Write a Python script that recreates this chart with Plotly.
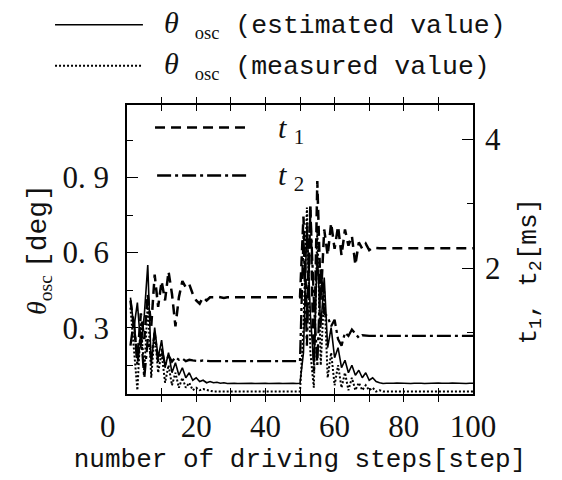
import plotly.graph_objects as go

steps = list(range(1, 101))

theta_est = [
    0.42, 0.30, 0.40, 0.22, 0.35, 0.55, 0.15, 0.30, 0.18, 0.25,
    0.14, 0.20, 0.12, 0.16, 0.11, 0.14, 0.10, 0.12, 0.09, 0.10,
    0.085, 0.09, 0.08, 0.085, 0.08, 0.082, 0.078, 0.08, 0.077, 0.079,
    0.078, 0.077, 0.078, 0.079, 0.077, 0.078, 0.077, 0.078, 0.079, 0.078,
    0.077, 0.078, 0.079, 0.078, 0.077, 0.078, 0.079, 0.078, 0.077, 0.078,
    0.20, 0.72, 0.35, 0.15, 0.60, 0.30, 0.50, 0.22, 0.30, 0.18,
    0.22, 0.14, 0.17, 0.12, 0.15, 0.11, 0.13, 0.10, 0.12, 0.09,
    0.10, 0.085, 0.08, 0.077, 0.078, 0.077, 0.078, 0.079, 0.078, 0.077,
    0.078, 0.077, 0.078, 0.079, 0.078, 0.077, 0.078, 0.077, 0.078, 0.079,
    0.078, 0.077, 0.078, 0.079, 0.078, 0.077, 0.078, 0.077, 0.078, 0.078,
]

theta_meas = [
    0.38, 0.20, 0.05, 0.32, 0.12, 0.40, 0.10, 0.28, 0.12, 0.20,
    0.08, 0.15, 0.07, 0.12, 0.06, 0.10, 0.06, 0.08, 0.05, 0.06,
    0.05, 0.055, 0.05, 0.048, 0.045, 0.045, 0.046, 0.045, 0.045, 0.045,
    0.045, 0.045, 0.045, 0.046, 0.045, 0.045, 0.045, 0.045, 0.045, 0.045,
    0.045, 0.045, 0.046, 0.045, 0.045, 0.045, 0.045, 0.045, 0.045, 0.045,
    0.30, 0.78, 0.20, 0.06, 0.70, 0.15, 0.45, 0.10, 0.20, 0.07,
    0.15, 0.06, 0.12, 0.05, 0.10, 0.05, 0.08, 0.05, 0.07, 0.05,
    0.06, 0.045, 0.05, 0.045, 0.045, 0.046, 0.045, 0.045, 0.045, 0.045,
    0.045, 0.045, 0.045, 0.045, 0.046, 0.045, 0.045, 0.045, 0.045, 0.045,
    0.045, 0.045, 0.045, 0.045, 0.045, 0.045, 0.045, 0.045, 0.045, 0.045,
]

t1 = [
    1.5, 1.1, 0.6, 1.3, 0.9, 1.6, 1.1, 1.9, 1.4, 1.8,
    1.5, 1.95, 1.6, 1.1, 1.55, 1.8, 1.7, 1.75, 1.6, 1.5,
    1.45, 1.55, 1.5, 1.55, 1.55, 1.56, 1.55, 1.54, 1.55, 1.55,
    1.55, 1.55, 1.55, 1.55, 1.55, 1.55, 1.55, 1.55, 1.55, 1.55,
    1.55, 1.55, 1.55, 1.55, 1.55, 1.55, 1.55, 1.55, 1.55, 1.55,
    2.8, 1.2, 3.0, 0.4, 3.35, 1.5, 2.6, 2.2, 2.7, 2.3,
    2.65, 2.2, 2.6, 2.35, 2.5, 2.05, 2.4, 2.3, 2.38, 2.28,
    2.32, 2.31, 2.31, 2.31, 2.31, 2.31, 2.31, 2.31, 2.31, 2.31,
    2.31, 2.31, 2.31, 2.31, 2.31, 2.31, 2.31, 2.31, 2.31, 2.31,
    2.31, 2.31, 2.31, 2.31, 2.31, 2.31, 2.31, 2.31, 2.31, 2.31,
]

t2 = [
    0.8, 1.2, 0.5, 1.0, 0.3, 0.9, 0.6, 1.0, 0.55, 0.75,
    0.5, 0.65, 0.55, 0.62, 0.58, 0.6, 0.56, 0.58, 0.57, 0.56,
    0.56, 0.57, 0.56, 0.56, 0.56, 0.56, 0.56, 0.56, 0.56, 0.56,
    0.56, 0.56, 0.56, 0.56, 0.56, 0.56, 0.56, 0.56, 0.56, 0.56,
    0.56, 0.56, 0.56, 0.56, 0.56, 0.56, 0.56, 0.56, 0.56, 0.56,
    2.5, 0.8, 2.9, 1.5, 0.5, 2.0, 1.3, 1.25, 1.1, 1.2,
    0.9, 0.8, 1.0, 0.95, 1.05, 0.98, 0.92, 0.96, 0.95, 0.95,
    0.95, 0.95, 0.95, 0.95, 0.95, 0.95, 0.95, 0.95, 0.95, 0.95,
    0.95, 0.95, 0.95, 0.95, 0.95, 0.95, 0.95, 0.95, 0.95, 0.95,
    0.95, 0.95, 0.95, 0.95, 0.95, 0.95, 0.95, 0.95, 0.95, 0.95,
]

x_tickvals = [0, 10, 20, 30, 40, 50, 60, 70, 80, 90, 100]
x_ticktext = ["0&nbsp;&nbsp;&nbsp;&nbsp;&nbsp;", "", "20", "", "40", "", "60", "", "80", "", "100"]
y_tickvals = [0.3, 0.6, 0.9]
y_ticktext = ["0. 3", "0. 6", "0. 9"]
y2_tickvals = [2, 4]
y2_ticktext = ["2", "4"]

DASH_T1 = "10px,6px"
DASH_T2 = "14px,4px,3px,4px"
DOT = "2px,2px"

SERIF = "Liberation Serif"
MONO = "Liberation Mono"

fig = go.Figure()
fig.add_trace(go.Scatter(x=steps, y=t1, mode="lines", yaxis="y2",
                         line=dict(color="black", width=2.5, dash=DASH_T1), showlegend=False))
fig.add_trace(go.Scatter(x=steps, y=t2, mode="lines", yaxis="y2",
                         line=dict(color="black", width=2.3, dash=DASH_T2), showlegend=False))
fig.add_trace(go.Scatter(x=steps, y=theta_meas, mode="lines",
                         line=dict(color="black", width=2, dash=DOT), showlegend=False))
fig.add_trace(go.Scatter(x=steps, y=theta_est, mode="lines",
                         line=dict(color="black", width=1.6), showlegend=False))

tickfont = dict(family=SERIF, size=31, color="#111")

fig.update_layout(
    width=562, height=480,
    margin=dict(l=127, r=89, t=105, b=80),
    paper_bgcolor="white", plot_bgcolor="white",
    xaxis=dict(range=[0, 100], tickmode="array", tickvals=x_tickvals, ticktext=x_ticktext,
               ticks="inside", ticklen=6, tickwidth=1.3, tickcolor="black",
               showline=True, linecolor="black", linewidth=1.5, mirror="allticks",
               showgrid=False, zeroline=False, tickfont=tickfont, ticklabelstandoff=4,
               title=dict(text="number of driving steps[step]",
                          font=dict(family=MONO, size=26, color="#111"), standoff=6)),
    yaxis=dict(range=[0.035, 1.19], tickmode="array", tickvals=y_tickvals, ticktext=y_ticktext,
               ticks="inside", ticklen=11, tickwidth=1.3, tickcolor="black",
               minor=dict(ticks="inside", ticklen=6, dtick=0.15, tick0=0, tickcolor="black"),
               showline=True, linecolor="black", linewidth=1.5,
               showgrid=False, zeroline=False, tickfont=tickfont, ticklabelstandoff=10,
               title=dict(text="<i>θ</i><sub>osc</sub> <span style='font-family:Liberation Mono'>[deg]</span>",
                          font=dict(family=SERIF, size=28, color="#111"), standoff=8)),
    yaxis2=dict(range=[0.05, 4.53], overlaying="y", side="right", tickmode="array",
                tickvals=y2_tickvals, ticktext=y2_ticktext,
                ticks="inside", ticklen=11, tickwidth=1.3, tickcolor="black",
                minor=dict(ticks="inside", ticklen=6, dtick=1, tick0=0, tickcolor="black"),
                showline=True, linecolor="black", linewidth=1.5,
                showgrid=False, zeroline=False, tickfont=tickfont, ticklabelstandoff=4),
)

# Right axis title as rotated annotation (offset lower like the reference)
fig.add_annotation(xref="paper", yref="paper", x=1.165, y=0.424, textangle=-90,
                   xanchor="center", yanchor="middle", showarrow=False,
                   font=dict(family=MONO, size=26, color="#111"),
                   text="t<sub>1</sub>, t<sub>2</sub>[ms]")

# Top legend (outside plot)
legend_font = dict(family=MONO, size=26.5, color="#111")
theta_html = ("<span style='font-family:Liberation Serif;font-style:italic;font-size:30px'>θ</span> "
              "<sub><span style='font-family:Liberation Serif'>osc</span></sub> ")
fig.add_shape(type="line", xref="paper", yref="paper", x0=-0.208, x1=0.046, y0=1.278, y1=1.278,
              line=dict(color="black", width=1.5))
fig.add_shape(type="line", xref="paper", yref="paper", x0=-0.208, x1=0.046, y0=1.136, y1=1.136,
              line=dict(color="black", width=2, dash=DOT))
fig.add_annotation(xref="paper", yref="paper", x=0.1, y=1.278, xanchor="left", yanchor="middle",
                   showarrow=False, font=legend_font, text=theta_html + "(estimated value)")
fig.add_annotation(xref="paper", yref="paper", x=0.1, y=1.136, xanchor="left", yanchor="middle",
                   showarrow=False, font=legend_font, text=theta_html + "(measured value)")

# Inner legend
fig.add_shape(type="line", xref="paper", yref="paper", x0=0.081, x1=0.341, y0=0.922, y1=0.922,
              line=dict(color="black", width=2.5, dash=DASH_T1))
fig.add_shape(type="line", xref="paper", yref="paper", x0=0.087, x1=0.347, y0=0.756, y1=0.756,
              line=dict(color="black", width=2.3, dash=DASH_T2))
inner_font = dict(family=SERIF, size=30, color="#111")
fig.add_annotation(xref="paper", yref="paper", x=0.43, y=0.915, xanchor="left", yanchor="middle",
                   showarrow=False, font=inner_font, text="<i>t</i> <sub>1</sub>")
fig.add_annotation(xref="paper", yref="paper", x=0.43, y=0.75, xanchor="left", yanchor="middle",
                   showarrow=False, font=inner_font, text="<i>t</i> <sub>2</sub>")

fig.write_html("out.html")
